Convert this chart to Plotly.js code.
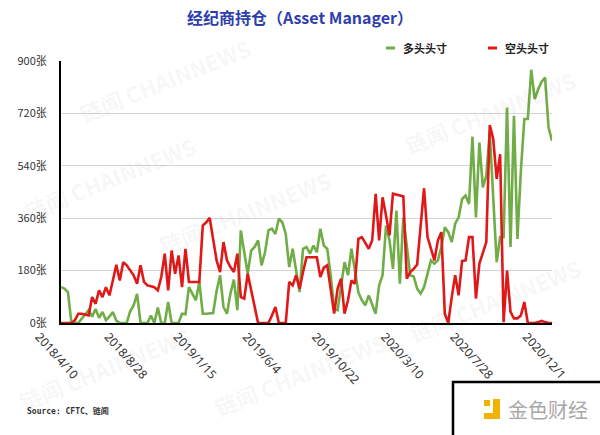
<!DOCTYPE html>
<html>
<head>
<meta charset="utf-8">
<script src="https://cdn.plot.ly/plotly-3.0.1.min.js"></script>
<style>
  html, body { margin: 0; padding: 0; background: #ffffff; }
  #chart { width: 600px; height: 435px; }
</style>
</head>
<body>
<div id="chart"></div>
<script>
// ---- data (weekly positions, in contracts "张") ----
const seriesNames = ['多头头寸', '空头头寸'];
const longPos = [
  123, 118, 106, 3, 0, 0, 15, 30, 44, 22,
  48, 18, 38, 10, 22, 38, 8, 0, 0, 0,
  40, 60, 100, 0, 0, 0, 26, 0, 53, 0,
  0, 72, 0, 0, 0, 32, 30, 123, 101, 78,
  141, 32, 32, 33, 34, 110, 164, 55, 32, 101,
  149, 44, 318, 243, 169, 249, 261, 284, 198, 243,
  318, 324, 306, 358, 346, 306, 192, 255, 181, 106,
  255, 261, 238, 266, 243, 324, 266, 255, 164, 49,
  44, 123, 209, 164, 255, 181, 106, 78, 61, 95,
  61, 32, 129, 164, 335, 284, 186, 386, 135, 363,
  266, 164, 160, 118, 101, 123, 169, 215, 204, 215,
  260, 329, 312, 278, 341, 363, 426, 438, 409, 640,
  363, 620, 466, 506, 655, 426, 209, 295, 295, 740,
  261, 712, 289, 523, 701, 701, 870, 769, 803, 829,
  843, 672, 626
];
const shortPos = [
  0, 0, 0, 0, 9, 32, 32, 30, 26, 89,
  66, 112, 89, 123, 95, 146, 200, 146, 209, 198,
  181, 164, 135, 198, 141, 129, 126, 123, 112, 158,
  238, 112, 249, 169, 232, 123, 255, 141, 141, 141,
  141, 335, 346, 361, 295, 215, 175, 278, 215, 192,
  175, 238, 89, 84, 169, 112, 55, 0, 0, 0,
  0, 26, 55, 0, 0, 0, 141, 129, 164, 118,
  175, 226, 226, 226, 226, 158, 190, 198, 118, 32,
  118, 152, 32, 78, 146, 135, 289, 295, 275, 255,
  284, 444, 284, 432, 369, 301, 444, 442, 438, 435,
  152, 175, 186, 201, 335, 463, 295, 255, 215, 284,
  312, 32, 0, 89, 164, 95, 213, 215, 295, 295,
  84, 204, 243, 278, 680, 632, 495, 580, 3, 180,
  38, 16, 16, 26, 72, 0, 0, 0, 3, 7,
  3, 0, 0
];
const tickLabels = ['2018/4/10', '2018/8/28', '2019/1/15', '2019/6/4', '2019/10/22', '2020/3/10', '2020/7/28', '2020/12/1'];
const tickWeeks = [0, 20, 40, 60, 80, 100, 120, 141];
const yTickVals = [0, 180, 360, 540, 720, 900];
const yTickText = yTickVals.map(v => v + '张');
const weekIndex = longPos.map((_, i) => i);

// ---- styles ----
const GREEN = '#70ad47';
const RED = '#e01818';
const CJK = "'Noto Sans CJK SC', 'Noto Sans', sans-serif";

// pixel helpers for decorations (paper coordinates)
const L = 20, R = 552, T = 61, B = 323;
const px = x => (x - L) / (R - L);
const py = y => (B - y) / (B - T);

const traces = [
  { x: weekIndex, y: longPos, type: 'scatter', mode: 'lines', name: seriesNames[0],
    line: { color: GREEN, width: 2.6 }, showlegend: false, hoverinfo: 'skip' },
  { x: weekIndex, y: shortPos, type: 'scatter', mode: 'lines', name: seriesNames[1],
    line: { color: RED, width: 2.6 }, showlegend: false, hoverinfo: 'skip' }
];

const wm = (text, x, y, size) => ({
  text: text, xref: 'paper', yref: 'paper', x: px(x), y: py(y),
  showarrow: false, textangle: -22, xanchor: 'center', yanchor: 'middle',
  font: { family: CJK, size: size || 22, color: 'rgba(0,0,0,0.055)', weight: 'bold' }
});

const annotations = [
  wm('链闻 CHAINNEWS', 165, 80),
  wm('链闻 CHAINNEWS', 110, 178),
  wm('链闻 CHAINNEWS', 245, 212),
  wm('链闻 CHAINNEWS', 490, 112),
  wm('链闻 CHAINNEWS', 495, 300),
  wm('链闻 CHAINNEWS', 105, 368),
  wm('链闻 CHAINNEWS', 300, 374),
  // legend texts
  { text: '<b>' + seriesNames[0] + '</b>', xref: 'paper', yref: 'paper', x: px(401), y: py(48),
    xanchor: 'left', yanchor: 'middle', showarrow: false,
    font: { family: CJK, size: 11, color: '#222' } },
  { text: '<b>' + seriesNames[1] + '</b>', xref: 'paper', yref: 'paper', x: px(503), y: py(48),
    xanchor: 'left', yanchor: 'middle', showarrow: false,
    font: { family: CJK, size: 11, color: '#222' } },
  // source
  { text: '<b>Source: CFTC、链闻</b>', xref: 'paper', yref: 'paper', x: px(25), y: py(411),
    xanchor: 'left', yanchor: 'middle', showarrow: false,
    font: { family: "'DejaVu Sans Mono', " + CJK, size: 8, color: '#333' } },
  // logo text
  { text: '金色财经', xref: 'paper', yref: 'paper', x: px(548), y: py(409),
    xanchor: 'center', yanchor: 'middle', showarrow: false,
    font: { family: CJK, size: 20, color: '#a8a8a8' } }
];

const shapes = [
  // legend samples
  { type: 'line', xref: 'paper', yref: 'paper', x0: px(386), x1: px(395), y0: py(48), y1: py(48),
    line: { color: GREEN, width: 3 } },
  { type: 'line', xref: 'paper', yref: 'paper', x0: px(488), x1: px(497), y0: py(48), y1: py(48),
    line: { color: RED, width: 3 } },
  // logo box
  { type: 'rect', xref: 'paper', yref: 'paper', x0: px(453), x1: px(604), y0: py(382), y1: py(440),
    line: { color: '#000', width: 2.5 }, fillcolor: '#ffffff', layer: 'above' },
  { type: 'rect', xref: 'paper', yref: 'paper', x0: px(484), x1: px(490), y0: py(400), y1: py(406),
    line: { width: 0 }, fillcolor: '#f2b300', layer: 'above' },
  { type: 'rect', xref: 'paper', yref: 'paper', x0: px(493), x1: px(500), y0: py(399), y1: py(419),
    line: { width: 0 }, fillcolor: '#f2b300', layer: 'above' },
  { type: 'rect', xref: 'paper', yref: 'paper', x0: px(484), x1: px(500), y0: py(413), y1: py(419),
    line: { width: 0 }, fillcolor: '#f2b300', layer: 'above' }
];

const layout = {
  width: 600, height: 435,
  margin: { l: L, r: 600 - R, t: T, b: 435 - B, pad: 0 },
  paper_bgcolor: '#ffffff', plot_bgcolor: '#ffffff',
  showlegend: false,
  title: {
    text: '经纪商持仓（Asset Manager）',
    xref: 'container', yref: 'container', x: 0.5, y: 1 - 18 / 435,
    xanchor: 'center', yanchor: 'middle',
    font: { family: CJK, size: 16, color: '#2f3eae', weight: 'bold' }
  },
  xaxis: {
    domain: [px(61), 1],
    range: [0, weekIndex.length - 1],
    showgrid: false, zeroline: false,
    showline: true, linecolor: '#000', linewidth: 2,
    ticks: '', tickvals: tickWeeks, ticktext: tickLabels,
    tickangle: 48, ticklabelshift: -22,
    tickfont: { family: "'Noto Sans', sans-serif", size: 12, color: '#333' },
    layer: 'below traces', fixedrange: true
  },
  yaxis: {
    range: [0, 900],
    tickvals: yTickVals, ticktext: yTickText,
    showgrid: true, gridcolor: '#d4d4d4', gridwidth: 1,
    zeroline: false,
    showline: true, linecolor: '#000', linewidth: 2,
    ticks: '', ticklabelstandoff: 10,
    tickfont: { family: CJK, size: 11, color: '#333' },
    layer: 'below traces', fixedrange: true
  },
  annotations: annotations,
  shapes: shapes
};

Plotly.newPlot('chart', traces, layout, { staticPlot: true, displayModeBar: false });
</script>
</body>
</html>
